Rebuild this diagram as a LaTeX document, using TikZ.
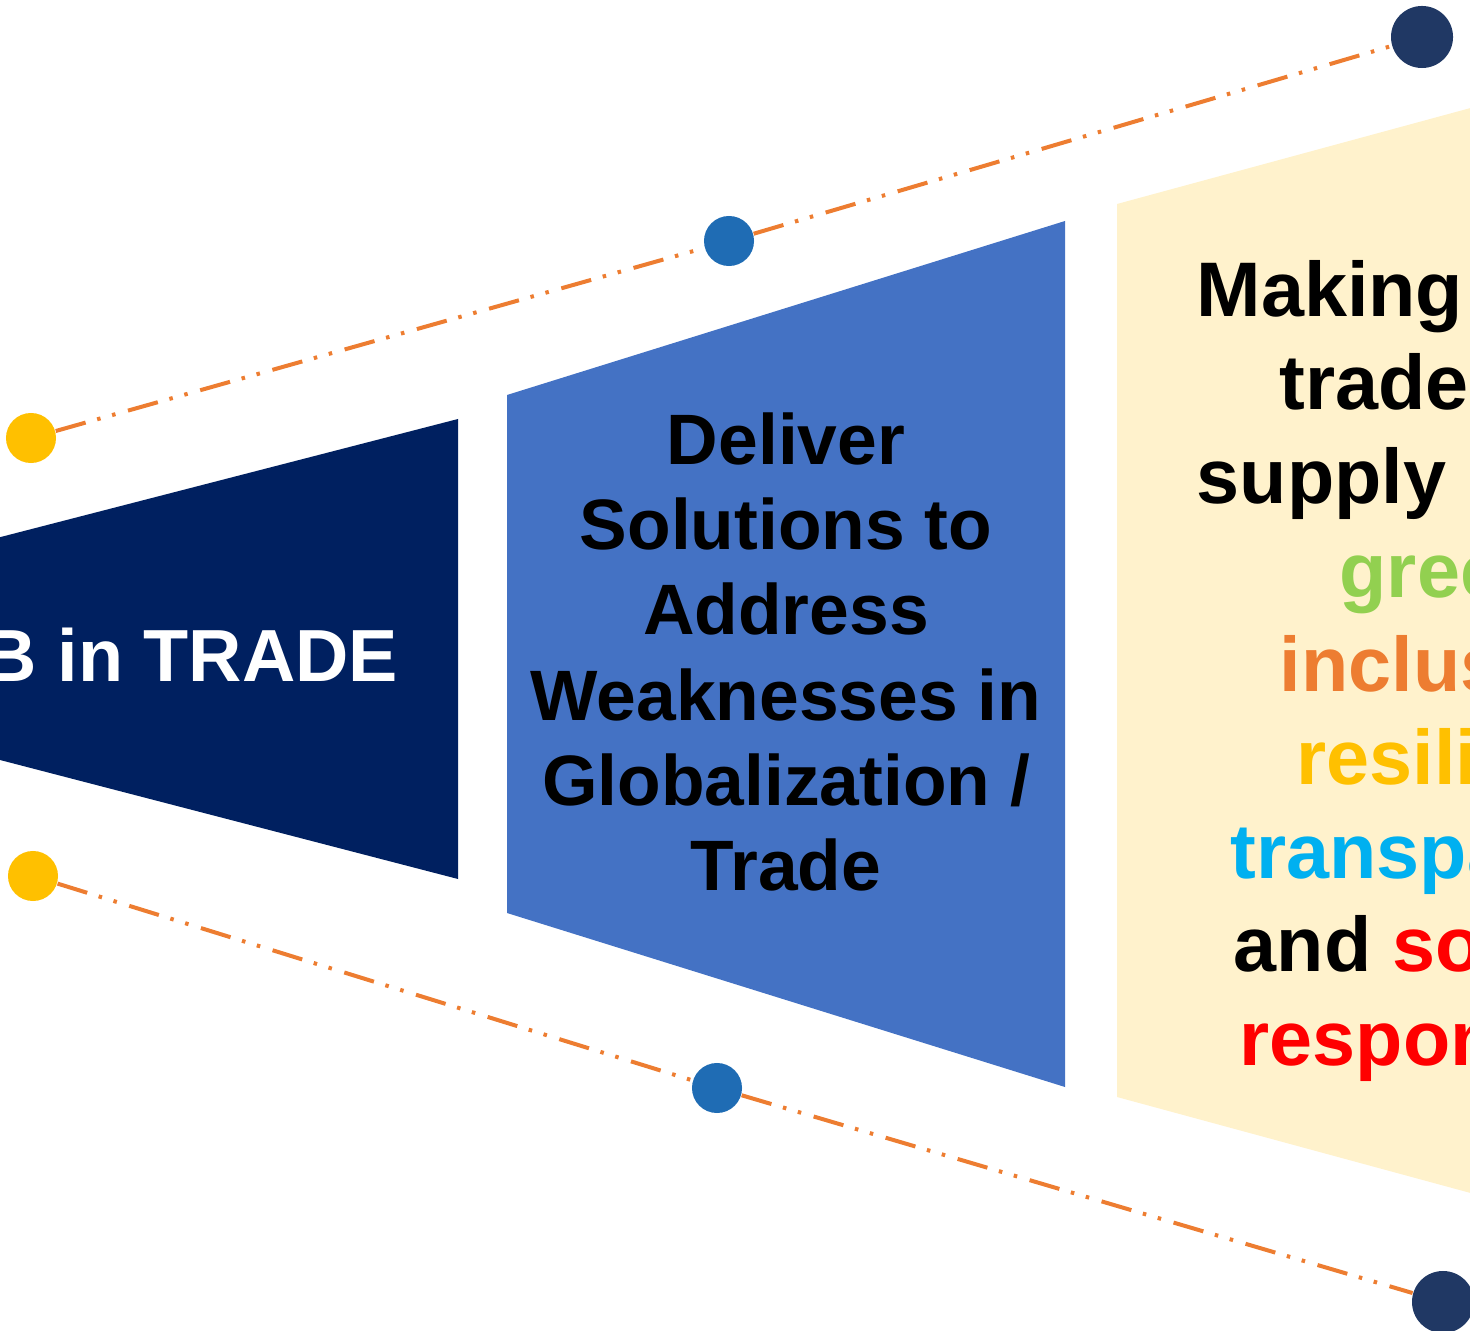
\documentclass[tikz,border=0pt]{standalone}
\usepackage{fontspec}
\setmainfont{Liberation Sans}
\usepackage{xcolor}
\usetikzlibrary{positioning}

\definecolor{navyband}{HTML}{002060}
\definecolor{midblue}{HTML}{4472C4}
\definecolor{paleyellow}{HTML}{FFF2CC}
\definecolor{dashorange}{HTML}{ED7D31}
\definecolor{dotyellow}{HTML}{FFC000}
\definecolor{dotblue}{HTML}{1F6CB4}
\definecolor{dotnavy}{HTML}{203864}
\definecolor{txtgreen}{HTML}{92D050}
\definecolor{txtorange}{HTML}{ED7D31}
\definecolor{txtyellow}{HTML}{FFC000}
\definecolor{txtblue}{HTML}{00B0F0}
\definecolor{txtred}{HTML}{FF0000}

\begin{document}
\begin{tikzpicture}[x=0.01cm, y=-0.01cm,
        joint/.style={circle, fill=#1, inner sep=0pt, minimum size=0.5cm},
        bigjoint/.style={joint=#1, minimum size=0.62cm},
        link/.style={dashorange, line width=0.04cm,
            dash pattern=on 0.31cm off 0.12cm on 0.035cm off 0.12cm on 0.035cm off 0.13cm},
        goal/.style={anchor=base west, inner sep=0pt,
            font=\fontsize{22}{26.4}\selectfont\bfseries}]
        \useasboundingbox (0,0) rectangle (1470,1331);
        \clip (0,0) rectangle (1470,1331);

        % --- Bands ---
        \fill[navyband] (-100,563) -- (458,419) -- (458,879) -- (-100,734) -- cycle;
        \fill[midblue] (507,395) -- (1065,221) -- (1065,1087) -- (507,913) -- cycle;
        \fill[paleyellow] (1117,204) -- (1570,81) -- (1570,1220) -- (1117,1097) -- cycle;

        % --- Dots and dashed guide lines ---
        \node[joint=dotyellow] (y1) at (31,438) {};
        \node[joint=dotblue] (b1) at (729,241) {};
        \node[bigjoint=dotnavy] (n1) at (1422,37) {};
        \node[joint=dotyellow] (y2) at (33,876) {};
        \node[joint=dotblue] (b2) at (717,1088) {};
        \node[bigjoint=dotnavy] (n2) at (1443,1302) {};
        \draw[link] (y1) -- (b1) -- (n1);
        \draw[link] (y2) -- (b2) -- (n2);

        % --- Texts ---
        \node[anchor=base east, inner sep=0pt, text=white,
            font=\fontsize{21}{25}\selectfont\bfseries] (hub) at (399,681) {ADB in TRADE};
        \node[align=center, inner sep=0pt,
            font=\fontsize{20.3}{24.2}\selectfont\bfseries] (solve) at (786,652)
            {Deliver\\Solutions to\\Address\\Weaknesses in\\Globalization /\\Trade};

        \node[goal] (g1) at (1196,317) {Making};
        \node[goal] (g2) at (1279,410) {trade};
        \node[goal] (g3) at (1196,504) {supply};
        \node[goal, text=txtgreen] (g4) at (1339,597) {greener,};
        \node[goal, text=txtorange] (g5) at (1279,691) {inclusive,};
        \node[goal, text=txtyellow] (g6) at (1296,784) {resilient,};
        \node[goal, text=txtblue] (g7) at (1230,878) {transparent};
        \node[goal] (g8) at (1233,971) {and \textcolor{txtred}{socially}};
        \node[goal, text=txtred] (g9) at (1239,1065) {responsible};
\end{tikzpicture}
\end{document}
